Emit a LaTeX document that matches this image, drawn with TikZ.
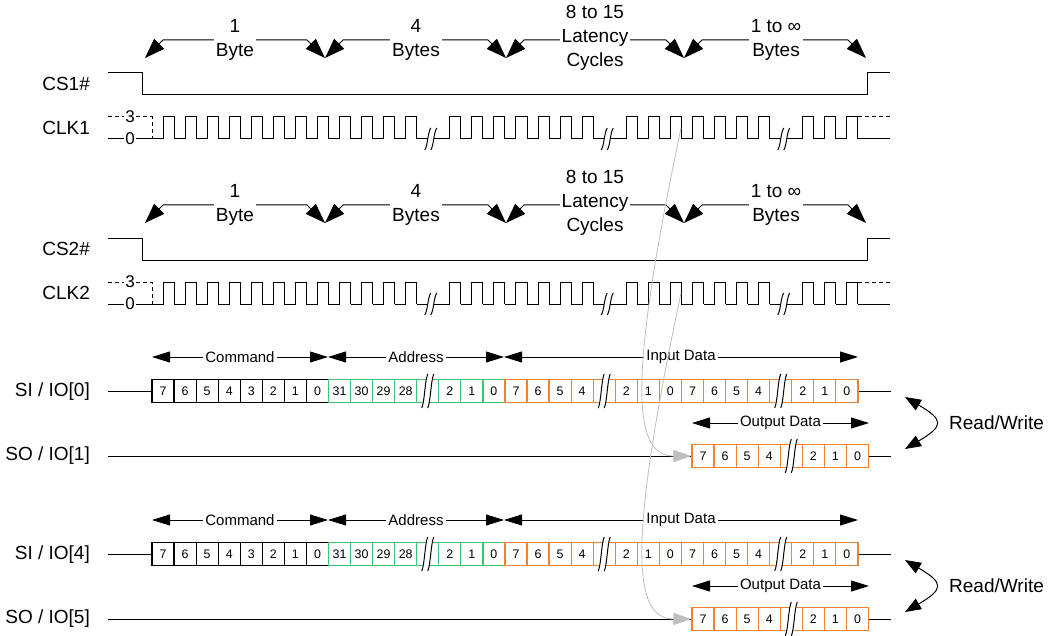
\documentclass[tikz,border=0pt]{standalone}
\usepackage{fontspec}
\setmainfont{Liberation Sans}
\usetikzlibrary{arrows.meta}
\definecolor{addrgreen}{RGB}{60,200,110}
\definecolor{dataorange}{RGB}{240,130,50}
\definecolor{tracegray}{RGB}{190,190,190}
\newcommand{\cw}{22.06}
% break mark: x, y, half height
\newcommand{\brkmark}[3]{%
  \fill[white] ({(#1)-6},{(#2)+(#3)}) -- ({(#1)},{(#2)+(#3)}) -- ({(#1)+6},{(#2)-(#3)}) -- ({(#1)},{(#2)-(#3)}) -- cycle;
  \draw ({(#1)-6},{(#2)+(#3)}) .. controls ({(#1)-3},{(#2)+(#3)*0.6}) and ({(#1)-3},{(#2)-(#3)*0.6}) .. ({(#1)},{(#2)-(#3)});
  \draw ({(#1)},{(#2)+(#3)}) .. controls ({(#1)+3},{(#2)+(#3)*0.6}) and ({(#1)+3},{(#2)-(#3)*0.6}) .. ({(#1)+6},{(#2)-(#3)});
}
% clock row: high level, low level
\newcommand{\clkrow}[2]{%
  \draw[dash pattern=on 2pt off 1.5pt] (108,{#1}) -- (152,{#1}) -- (152,{#2});
  \draw (108,{#2}) -- (152,{#2});
  \foreach \k in {0,1,2,3,4,5,6,7,8,9,10,11,13,14,15,16,17,18,19,21,22,23,24,25,26,27,29,30,31}
    \draw ({152+\k*\cw},{#2}) -- ++(11.03,0) -- ++(0,{(#1)-(#2)}) -- ++(11.03,0) -- ++(0,{(#2)-(#1)});
  \foreach \k in {12,20,28}{
    \draw ({152+\k*\cw},{#2}) -- ++(\cw,0);
    \brkmark{152+(\k+0.5)*\cw+3}{#2}{11}
  }
  \draw (858,{#2}) -- (890,{#2});
  \draw[dash pattern=on 2pt off 1.5pt] (858,{#1}) -- (890,{#1});
}

\begin{document}
\begin{tikzpicture}[x=0.5pt,y=-0.5pt,line width=0.5pt,
  sig/.style={anchor=east, font=\fontsize{9.5}{11}\selectfont},
  spanlbl/.style={fill=white, inner sep=1pt, align=center, font=\fontsize{9.5}{12}\selectfont},
  field/.style={fill=white, inner sep=1pt, font=\fontsize{7.5}{9}\selectfont},
  lvl/.style={fill=white, inner sep=0.5pt, font=\fontsize{8.5}{10}\selectfont},
  bitcell/.style={draw, line width=0.6pt, fill=white, minimum width=11.03pt, minimum height=11.3pt, inner sep=0pt, font=\fontsize{6.2}{7}\selectfont},
  bigtip/.style={{Triangle[length=10pt,width=7pt]}-{Triangle[length=10pt,width=7pt]}},
  fieldarrow/.style={{Triangle[length=9pt,width=5.5pt]}-{Triangle[length=9pt,width=5.5pt]}},
  rwarrow/.style={{Triangle[length=8pt,width=6pt]}-{Triangle[length=8pt,width=6pt]}},
  clktrace/.style={draw=tracegray, line width=0.4pt, -{Triangle[length=9pt,width=6pt,fill=tracegray]}}]
\useasboundingbox (0,0) rectangle (1048,636);

% chip select and clock
\foreach \s/\dy in {1/0,2/165}{
  \node[sig] (cs\s) at (97,{84+\dy}) {CS\s\#};
  \node[sig] (clk\s) at (97,{128+\dy}) {CLK\s};
  \coordinate (tip\s-a) at (145,{58+\dy});
  \coordinate (tip\s-b) at (325,{58+\dy});
  \coordinate (tip\s-c) at (506,{58+\dy});
  \coordinate (tip\s-d) at (684,{58+\dy});
  \coordinate (tip\s-e) at (866,{58+\dy});
  \foreach \p/\q in {a/b,b/c,c/d,d/e}
    \draw[bigtip] (tip\s-\p) -- ++(18,-18) -- ([shift={(-18,-18)}]tip\s-\q) -- (tip\s-\q);
  \node[spanlbl] (one\s) at (235,{40+\dy}) {1\\Byte};
  \node[spanlbl] (four\s) at (416,{40+\dy}) {4\\Bytes};
  \node[spanlbl] (lat\s) at (595,{38+\dy}) {8 to 15\\Latency\\Cycles};
  \node[spanlbl] (inf\s) at (776,{40+\dy}) {1 to ∞\\Bytes};
  \draw (108,{73+\dy}) -- (142,{73+\dy}) -- (142,{95+\dy}) -- (867,{95+\dy}) -- (867,{73+\dy}) -- (890,{73+\dy});
  \clkrow{117+\dy}{139+\dy}
  \node[lvl] (hi\s) at (130,{117+\dy}) {3};
  \node[lvl] (lo\s) at (130,{139+\dy}) {0};
}

% data lines
\foreach \r/\dy/\si/\so in {A/0/0/1,B/163/4/5}{
  \node[sig] (si\r) at (97,{392+\dy}) {SI / IO[\si]};
  \node[sig] (so\r) at (97,{456+\dy}) {SO / IO[\so]};
  \coordinate (siw\r) at (108,{391+\dy});
  \coordinate (sie\r) at (891,{391+\dy});
  \coordinate (sow\r) at (108,{456+\dy});
  \coordinate (soe\r) at (891,{456+\dy});
  \foreach \lab [count=\i from 0] in {7,6,5,4,3,2,1,0}
    \node[bitcell] (in\r\i) at ({152+(\i+0.5)*\cw},{391+\dy}) {\lab};
  \foreach \lab [count=\i from 8] in {31,30,29,28,{},2,1,0}
    \node[bitcell,draw=addrgreen] (in\r\i) at ({152+(\i+0.5)*\cw},{391+\dy}) {\lab};
  \foreach \lab [count=\i from 16] in {7,6,5,4,{},2,1,0,7,6,5,4,{},2,1,0}
    \node[bitcell,draw=dataorange] (in\r\i) at ({152+(\i+0.5)*\cw},{391+\dy}) {\lab};
  \foreach \lab [count=\i from 0] in {7,6,5,4,{},2,1,0}
    \node[bitcell,draw=dataorange] (out\r\i) at ({692+(\i+0.5)*\cw},{456+\dy}) {\lab};
  \brkmark{152+12.5*\cw}{391+\dy}{17}
  \brkmark{152+20.5*\cw}{391+\dy}{17}
  \brkmark{152+28.5*\cw}{391+\dy}{17}
  \brkmark{692+4.5*\cw}{456+\dy}{17}
  \draw (siw\r) -- (in\r0.west);
  \draw (in\r31.east) -- (sie\r);
  \draw (sow\r) -- (out\r0.west);
  \draw (out\r7.east) -- (soe\r);
  % fields
  \coordinate (f\r0) at (152,{357+\dy});
  \coordinate (f\r1) at (328,{357+\dy});
  \coordinate (f\r2) at (504,{357+\dy});
  \coordinate (f\r3) at (858,{357+\dy});
  \coordinate (g\r0) at (692,{423+\dy});
  \coordinate (g\r1) at (869,{423+\dy});
  \draw[fieldarrow] (f\r0) -- node[field] (cmd\r) {Command} (f\r1);
  \draw[fieldarrow] (f\r1) -- node[field] (adr\r) {Address} (f\r2);
  \draw[fieldarrow] (f\r2) -- node[field] (ind\r) {Input Data} (f\r3);
  \draw[fieldarrow] (g\r0) -- node[field] (outd\r) {Output Data} (g\r1);
  % read/write
  \node[sig,anchor=west] (rw\r) at (942,{423+\dy}) {Read/Write};
  \coordinate (rwt\r) at (905,{397+\dy});
  \coordinate (rwb\r) at (905,{449+\dy});
  \draw[rwarrow] (rwt\r) .. controls (944,{420+\dy}) and (944,{426+\dy}) .. (rwb\r);
}

% clock edge to output
\coordinate (edge1) at (681,128);
\coordinate (edge2) at (681,293);
\draw[clktrace] (edge1) .. controls (628,380) and (632,456) .. (outA0.west);
\draw[clktrace] (edge2) .. controls (628,543) and (632,619) .. (outB0.west);
\end{tikzpicture}
\end{document}
